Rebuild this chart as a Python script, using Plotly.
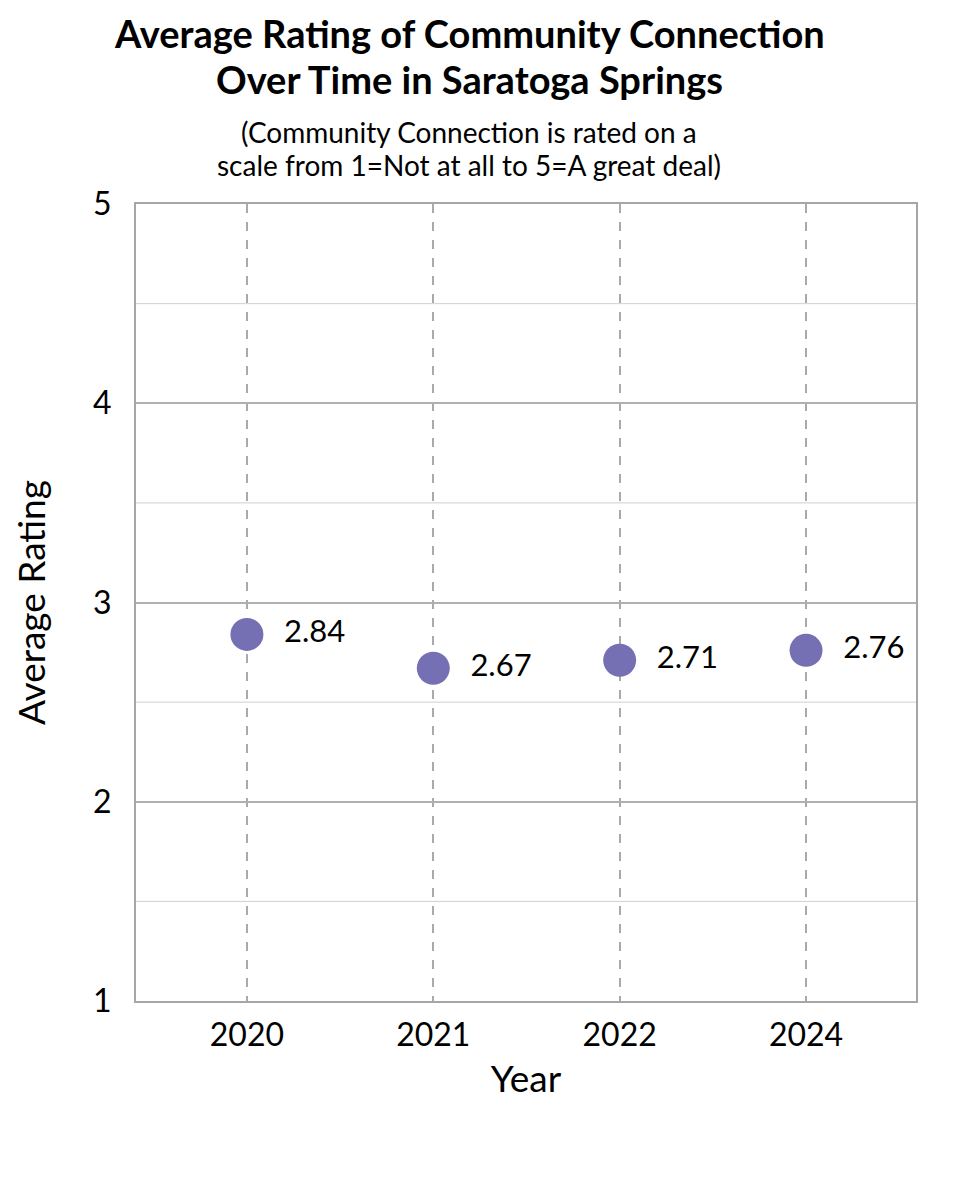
import plotly.graph_objects as go

years = ['2020', '2021', '2022', '2024']
ratings = [2.84, 2.67, 2.71, 2.76]
labels = ['2.84', '2.67', '2.71', '2.76']

title_lines = ['Average Rating of Community Connection', 'Over Time in Saratoga Springs']
subtitle_lines = ['(Community Connection is rated on a', 'scale from 1=Not at all to 5=A great deal)']

font = 'Lato, Open Sans, sans-serif'
purple = '#7570b3'

fig = go.Figure()

fig.add_trace(go.Scatter(
    x=years,
    y=ratings,
    mode='markers+text',
    marker=dict(size=33, color=purple),
    text=['\u2002' + t for t in labels],
    textposition='middle right',
    textfont=dict(size=31, color='black', family=font),
    cliponaxis=False,
    showlegend=False,
))

# minor gridlines at the half points
for v in [1.5, 2.5, 3.5, 4.5]:
    fig.add_shape(type='line', xref='paper', x0=0, x1=1, yref='y', y0=v, y1=v,
                  line=dict(color='#d0d0d0', width=1), layer='below')

# title and subtitle, one annotation per line
for txt, yp in zip(title_lines, [1.2145, 1.157]):
    fig.add_annotation(text='<b>' + txt + '</b>', xref='paper', yref='paper', x=0.427, y=yp,
                       xanchor='center', yanchor='middle', showarrow=False,
                       font=dict(size=38, family=font, color='black'))
for txt, yp in zip(subtitle_lines, [1.0905, 1.0485]):
    fig.add_annotation(text=txt, xref='paper', yref='paper', x=0.427, y=yp,
                       xanchor='center', yanchor='middle', showarrow=False,
                       font=dict(size=28, family=font, color='black'))

fig.update_layout(
    width=944, height=1184,
    paper_bgcolor='white', plot_bgcolor='white',
    margin=dict(l=128, r=36, t=196, b=191),
    font=dict(family=font, color='black'),
)

fig.update_xaxes(
    type='category',
    range=[-0.595, 3.59],
    showgrid=True, gridcolor='#aaaaaa', griddash='dash', gridwidth=1.5,
    showline=True, linecolor='#a6a6a6', linewidth=2, mirror=True,
    ticks='', tickfont=dict(size=32, family=font), ticklabelstandoff=5,
    title=dict(text='Year', font=dict(size=37, family=font), standoff=14),
)
fig.update_yaxes(
    range=[1, 5], dtick=1,
    showgrid=True, gridcolor='#b0b0b0', gridwidth=1.5,
    showline=True, linecolor='#a6a6a6', linewidth=2, mirror=True,
    ticks='', tickfont=dict(size=32, family=font), zeroline=False, ticklabelstandoff=16,
    title=dict(text='Average Rating', font=dict(size=37, family=font), standoff=37),
)

fig.write_html('out.html')
